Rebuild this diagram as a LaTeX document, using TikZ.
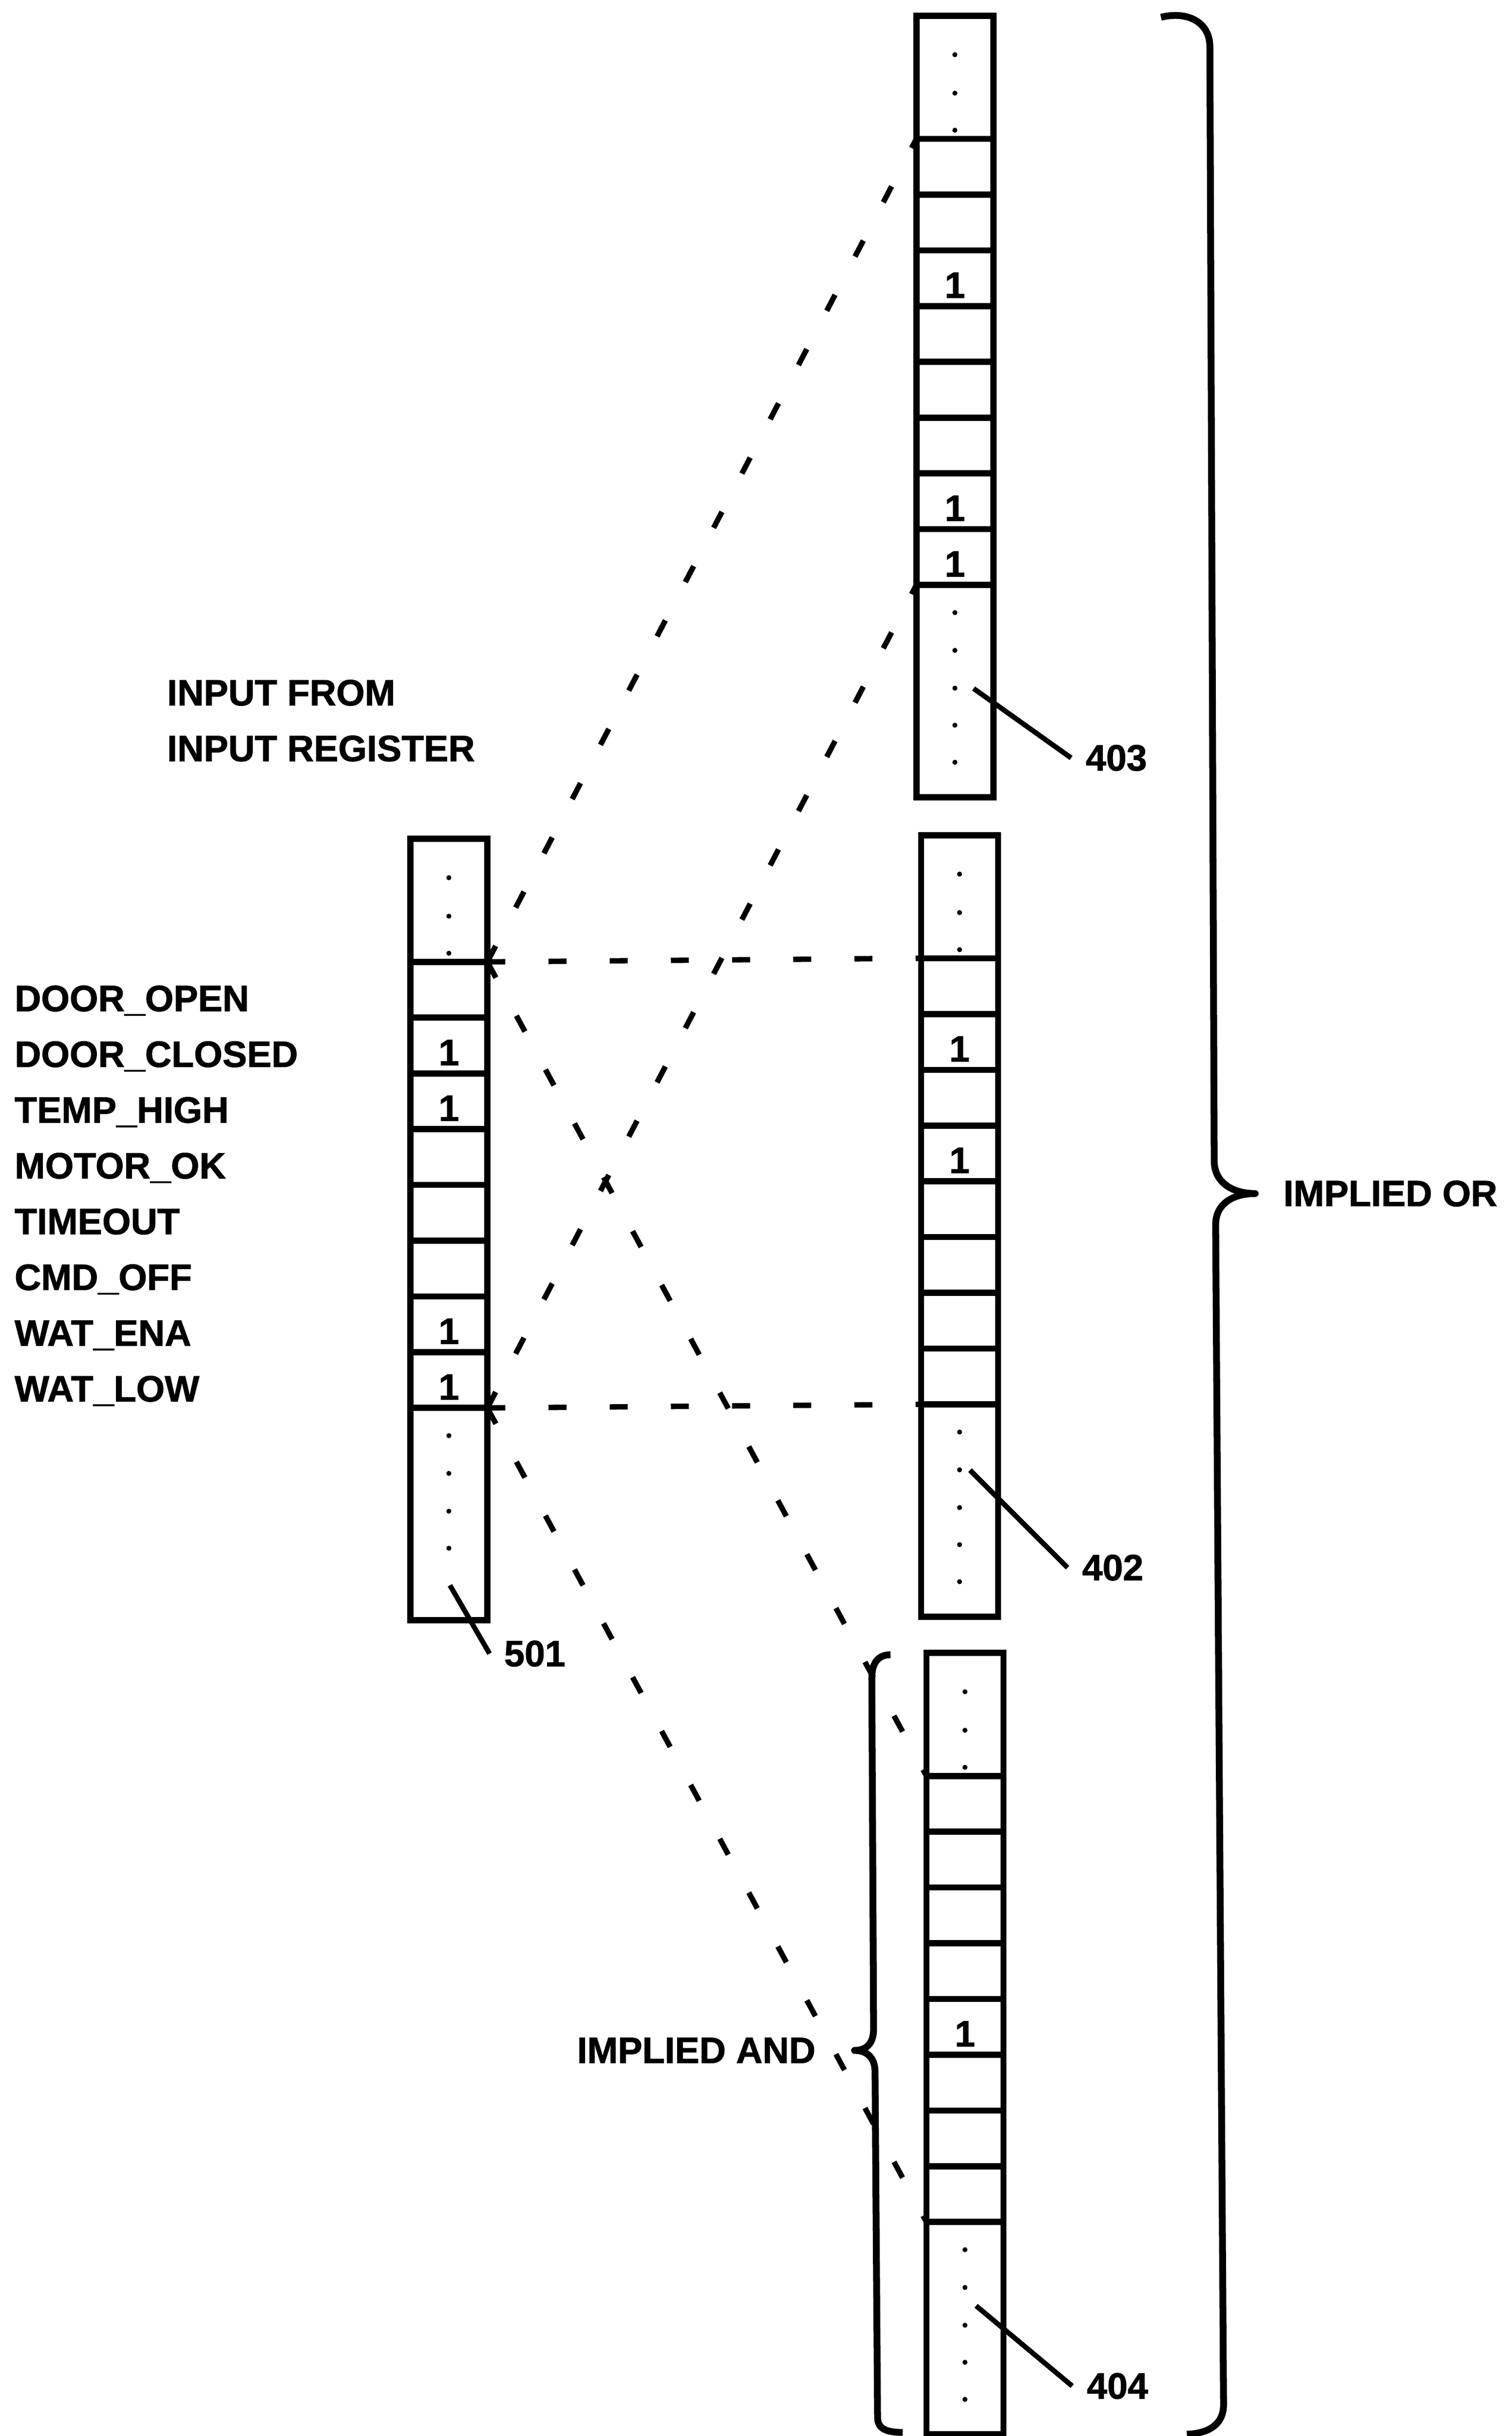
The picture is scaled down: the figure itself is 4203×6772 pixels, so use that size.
\documentclass[tikz,border=0pt]{standalone}
\usepackage{fontspec}
\setmainfont{Liberation Sans}[BoldFeatures={FakeBold=1.3}]
\usetikzlibrary{positioning}

\newcommand{\sigfont}{\fontsize{29}{35}\selectfont\bfseries}

\tikzset{
  regcell/.style={draw, line width=0.17cm, minimum width=2.14cm,
    minimum height=1.55cm, text height=1.09cm, inner sep=0pt, outer sep=0pt},
  topgap/.style={regcell, minimum height=3.42cm},
  botgap/.style={regcell, minimum height=5.9cm},
  sigtext/.style={anchor=base west, inner sep=0pt},
  refnum/.style={inner sep=0.4cm},
  maskline/.style={line width=0.15cm, dash pattern=on 0.5cm off 1.2cm},
  leadline/.style={line width=0.14cm},
  bracepath/.style={line width=0.19cm, line join=round}
}

\begin{document}
\begin{tikzpicture}[x=0.01cm, y=-0.01cm, font=\sigfont]
\path[use as bounding box, fill=white] (0,0) rectangle (4203,6772);

% input register 501
\node[topgap] (r501-0) at (1248,2503) {};
\node[regcell] (r501-1) at (1248,2751.5) {};
\node[regcell] (r501-2) at (1248,2906.5) {1};
\node[regcell] (r501-3) at (1248,3061.5) {1};
\node[regcell] (r501-4) at (1248,3216.5) {};
\node[regcell] (r501-5) at (1248,3371.5) {};
\node[regcell] (r501-6) at (1248,3526.5) {};
\node[regcell] (r501-7) at (1248,3681.5) {1};
\node[regcell] (r501-8) at (1248,3836.5) {1};
\node[botgap] (r501-9) at (1248,4209) {};

% register 403
\node[topgap] (r403-0) at (2655,215) {};
\node[regcell] (r403-1) at (2655,463.5) {};
\node[regcell] (r403-2) at (2655,618.5) {};
\node[regcell] (r403-3) at (2655,773.5) {1};
\node[regcell] (r403-4) at (2655,928.5) {};
\node[regcell] (r403-5) at (2655,1083.5) {};
\node[regcell] (r403-6) at (2655,1238.5) {};
\node[regcell] (r403-7) at (2655,1393.5) {1};
\node[regcell] (r403-8) at (2655,1548.5) {1};
\node[botgap] (r403-9) at (2655,1921) {};

% register 402
\node[topgap] (r402-0) at (2668,2493) {};
\node[regcell] (r402-1) at (2668,2741.5) {};
\node[regcell] (r402-2) at (2668,2896.5) {1};
\node[regcell] (r402-3) at (2668,3051.5) {};
\node[regcell] (r402-4) at (2668,3206.5) {1};
\node[regcell] (r402-5) at (2668,3361.5) {};
\node[regcell] (r402-6) at (2668,3516.5) {};
\node[regcell] (r402-7) at (2668,3671.5) {};
\node[regcell] (r402-8) at (2668,3826.5) {};
\node[botgap] (r402-9) at (2668,4199) {};

% register 404
\node[topgap] (r404-0) at (2683,4766) {};
\node[regcell] (r404-1) at (2683,5014.5) {};
\node[regcell] (r404-2) at (2683,5169.5) {};
\node[regcell] (r404-3) at (2683,5324.5) {};
\node[regcell] (r404-4) at (2683,5479.5) {};
\node[regcell] (r404-5) at (2683,5634.5) {1};
\node[regcell] (r404-6) at (2683,5789.5) {};
\node[regcell] (r404-7) at (2683,5944.5) {};
\node[regcell] (r404-8) at (2683,6099.5) {};
\node[botgap] (r404-9) at (2683,6472) {};

% continuation dots
\foreach \y in {2440,2547,2650,3991,4096,4201,4304}
  \fill (1248,\y) circle (0.07cm);
\foreach \y in {152,259,362,1703,1808,1913,2016,2119}
  \fill (2655,\y) circle (0.07cm);
\foreach \y in {2430,2537,2640,3981,4086,4191,4294,4397}
  \fill (2668,\y) circle (0.07cm);
\foreach \y in {4703,4810,4913,6254,6359,6464,6567,6670}
  \fill (2683,\y) circle (0.07cm);

% mapping of the input window
\draw[maskline] (r501-1.north east) -- (r403-1.north west);
\draw[maskline] (r501-8.south east) -- (r403-8.south west);
\draw[maskline] (r501-1.north east) -- (r402-1.north west);
\draw[maskline] (r501-8.south east) -- (r402-8.south west);
\draw[maskline] (r501-1.north east) -- (r404-1.north west);
\draw[maskline] (r501-8.south east) -- (r404-8.south west);

% reference numerals
\coordinate (p501) at (1251,4407);
\coordinate (p403) at (2707,1914);
\coordinate (p402) at (2697,4087);
\coordinate (p404) at (2714,6410);
\node[refnum] (n501) at (1487,4597) {501};
\node[refnum] (n403) at (3104,2107) {403};
\node[refnum] (n402) at (3094,4358) {402};
\node[refnum] (n404) at (3107,6633) {404};
\draw[leadline] (p501) -- (n501.west);
\draw[leadline] (p403) -- (n403.west);
\draw[leadline] (p402) -- (n402.west);
\draw[leadline] (p404) -- (n404.west);

% braces
\coordinate (or-tip) at (3490,3318);
\coordinate (and-tip) at (2376,5700);
\draw[bracepath] (3228,48) .. controls (3300,30) and (3364,60) .. (3364,130)
  -- (3376,3230) .. controls (3378,3290) and (3430,3318) .. (or-tip)
  .. controls (3430,3318) and (3380,3345) .. (3380,3405)
  -- (3402,6685) .. controls (3402,6740) and (3360,6765) .. (3300,6767);
\draw[bracepath] (2476,4600) .. controls (2440,4600) and (2424,4625) .. (2424,4665)
  -- (2429,5640) .. controls (2429,5685) and (2405,5700) .. (and-tip)
  .. controls (2405,5700) and (2433,5715) .. (2433,5760)
  -- (2440,6720) .. controls (2440,6752) and (2465,6762) .. (2510,6762);
\node[right=0.66cm of or-tip] (implied-or) {IMPLIED OR};
\node[left=0.96cm of and-tip] (implied-and) {IMPLIED AND};

% input labels
\node[sigtext] (in-from) at (464,1961) {INPUT FROM};
\node[sigtext] (in-reg) at (464,2116) {INPUT REGISTER};
\node[sigtext] (door-open) at (40,2811) {DOOR\_OPEN};
\node[sigtext] (door-closed) at (40,2966) {DOOR\_CLOSED};
\node[sigtext] (temp-high) at (40,3121) {TEMP\_HIGH};
\node[sigtext] (motor-ok) at (40,3276) {MOTOR\_OK};
\node[sigtext] (timeout) at (40,3431) {TIMEOUT};
\node[sigtext] (cmd-off) at (40,3586) {CMD\_OFF};
\node[sigtext] (wat-ena) at (40,3741) {WAT\_ENA};
\node[sigtext] (wat-low) at (40,3896) {WAT\_LOW};
\end{tikzpicture}
\end{document}
